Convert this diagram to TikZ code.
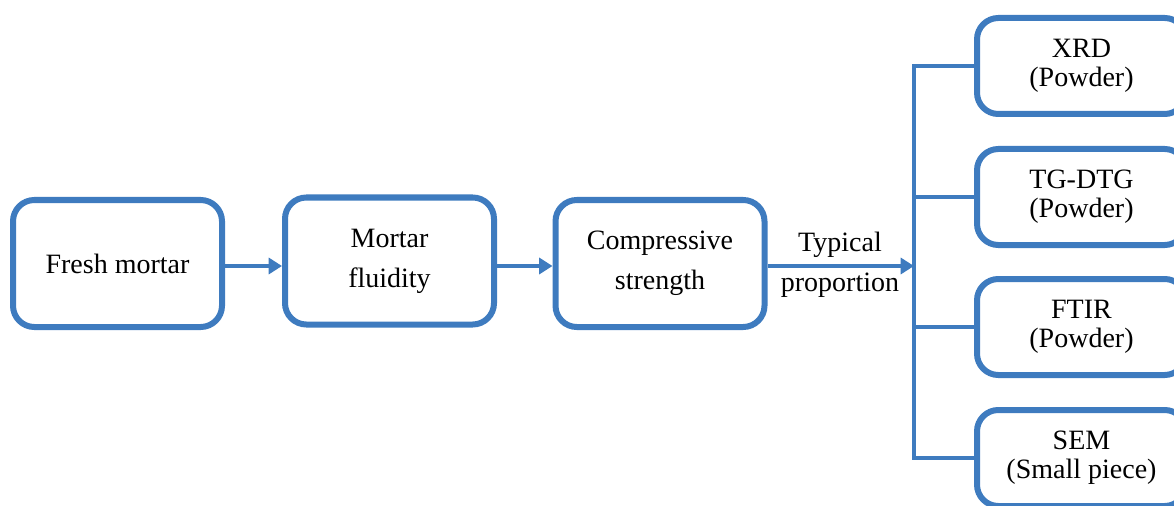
\documentclass[tikz,border=0pt]{standalone}
\usepackage{fontspec}
\setmainfont{Liberation Serif}
\usetikzlibrary{arrows.meta}
\definecolor{flowblue}{RGB}{62,123,191}
\begin{document}
\begin{tikzpicture}[x=0.75pt,y=-0.75pt,
  stage/.style={draw=flowblue, line width=4.5pt, rounded corners=16pt,
    minimum width=156.75pt, minimum height=95.25pt, inner sep=0pt,
    align=center, font=\fontsize{21}{30}\selectfont},
  test/.style={stage, minimum height=72pt, font=\fontsize{21}{21.75}\selectfont},
  flow/.style={draw=flowblue, line width=3.4pt, -{Triangle[length=10pt,width=12pt]}},
  branch/.style={draw=flowblue, line width=2.4pt},
  caption/.style={inner sep=0pt, align=center, font=\fontsize{21}{30}\selectfont},
]
\useasboundingbox (0,0) rectangle (1174,506);
\clip (0,0) rectangle (1174,506);

% main sequence of steps
\node[stage] (fresh) at (117.5,263.5) {Fresh mortar};
\node[stage] (fluid) at (389.5,261) {Mortar\\fluidity};
\node[stage] (comp)  at (660,263.5) {Compressive\\strength};

% characterisation tests
\node[test] (xrd)  at (1081.5,66)  {XRD\\(Powder)};
\node[test] (tg)   at (1081.5,197) {TG-DTG\\(Powder)};
\node[test] (ftir) at (1081.5,327) {FTIR\\(Powder)};
\node[test] (sem)  at (1081.5,458) {SEM\\(Small piece)};

\coordinate (flowline) at (0,266);
\coordinate (hub) at (914,266);

% arrows between steps
\draw[flow] (fresh.east |- flowline) -- (fluid.west |- flowline);
\draw[flow] (fluid.east |- flowline) -- (comp.west |- flowline);
\draw[flow] (comp.east |- flowline) -- (hub);
\node[caption] (prop) at (840,265) {Typical\\proportion};

% bracket to the tests
\draw[branch] (xrd.west) -- (xrd.west -| hub) -- (sem.west -| hub) -- (sem.west);
\draw[branch] (tg.west -| hub) -- (tg.west);
\draw[branch] (ftir.west -| hub) -- (ftir.west);
\end{tikzpicture}
\end{document}
